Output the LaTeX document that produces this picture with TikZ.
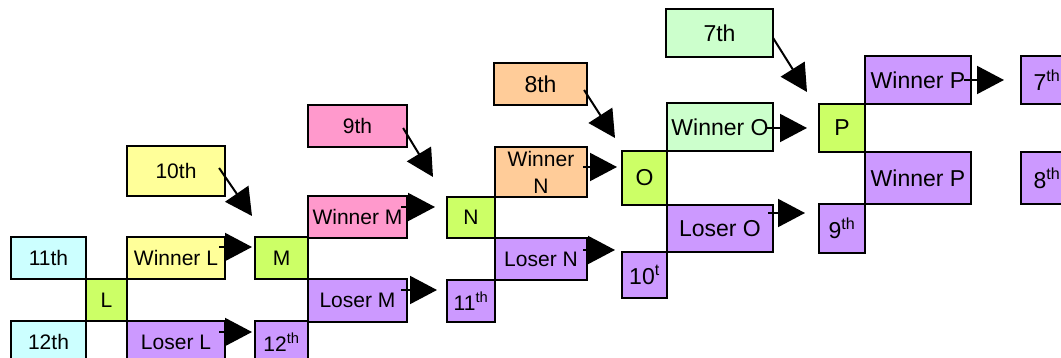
\documentclass[tikz,border=0pt]{standalone}
\usepackage{fontspec}
\setmainfont{Liberation Sans}
\usetikzlibrary{arrows.meta}
\definecolor{cyanL}{HTML}{CCFFFF}
\definecolor{yel}{HTML}{FFFF99}
\definecolor{limeG}{HTML}{CCFF66}
\definecolor{purp}{HTML}{CC99FF}
\definecolor{pinkR}{HTML}{FF99CC}
\definecolor{orng}{HTML}{FFCC99}
\definecolor{lgrn}{HTML}{CCFFCC}
\newcommand\fsA{\fontsize{21}{27}\selectfont}
\newcommand\fsB{\fontsize{23}{28}\selectfont}
\tikzset{
  bx/.style={draw=black, line width=2.2pt, inner sep=0pt, align=center, font=\fsA, text=black},
  big/.style={font=\fsB},
  arr/.style={line width=2pt, -{Triangle[length=27pt,width=28pt]}},
}
\begin{document}
\begin{tikzpicture}[x=1pt,y=-1pt]
\path[use as bounding box] (0,0) rectangle (1061,358);
\fill[white] (0,0) rectangle (1061,358);
\clip (0,0) rectangle (1061,358);
% column L
\node[bx, fill=cyanL, minimum width=75pt, minimum height=42pt] (c11) at (48.5,258) {11th};
\node[bx, fill=cyanL, minimum width=75pt, minimum height=42pt] (c12) at (48.5,342) {12th};
\node[bx, fill=limeG, minimum width=41pt, minimum height=42pt] (l) at (106.5,300) {L};
\node[bx, fill=yel, minimum width=98pt, minimum height=42pt] (wl) at (176,258) {Winner L};
\node[bx, fill=purp, minimum width=98pt, minimum height=42pt] (ll) at (176,342) {Loser L};
\node[bx, fill=yel, minimum width=98pt, minimum height=50pt] (t10) at (176,171) {10th};
% column M
\node[bx, fill=limeG, minimum width=53pt, minimum height=42pt] (m) at (281.5,258) {M};
\node[bx, fill=purp, minimum width=53pt, minimum height=42pt] (p12) at (281.5,342) {12\textsuperscript{th}};
\node[bx, fill=pinkR, minimum width=99pt, minimum height=42pt] (wm) at (357.5,217) {Winner M};
\node[bx, fill=purp, minimum width=99pt, minimum height=43pt] (lm) at (357.5,300.5) {Loser M};
\node[bx, fill=pinkR, minimum width=99pt, minimum height=42pt] (t9) at (357.5,126) {9th};
% column N
\node[bx, fill=limeG, minimum width=48pt, minimum height=41pt] (n) at (471,217.5) {N};
\node[bx, fill=orng, minimum width=92pt, minimum height=50pt] (wn) at (541,172) {Winner\\N};
\node[bx, fill=purp, minimum width=92pt, minimum height=42pt] (ln) at (541,259) {Loser N};
\node[bx, fill=purp, minimum width=48pt, minimum height=42pt] (p11) at (471,301) {11\textsuperscript{th}};
\node[bx, big, fill=orng, minimum width=93pt, minimum height=42pt] (t8) at (540.5,84) {8th};
% column O
\node[bx, big, fill=limeG, minimum width=45pt, minimum height=54pt] (o) at (644.5,178) {O};
\node[bx, big, fill=lgrn, minimum width=106pt, minimum height=48pt] (wo) at (720,127) {Winner O};
\node[bx, big, fill=purp, minimum width=106pt, minimum height=47pt] (lo) at (720,228.5) {Loser O};
\node[bx, big, fill=purp, minimum width=45pt, minimum height=46pt] (p10) at (644.5,275) {10\textsuperscript{t}};
\node[bx, big, fill=lgrn, minimum width=107pt, minimum height=48pt] (t7) at (719.5,33) {7th};
% column P
\node[bx, big, fill=limeG, minimum width=46pt, minimum height=48pt] (p) at (842,128) {P};
\node[bx, big, fill=purp, minimum width=106pt, minimum height=48pt] (wpa) at (918,80) {Winner P};
\node[bx, big, fill=purp, minimum width=106pt, minimum height=52pt] (wpb) at (918,178) {Winner P};
\node[bx, big, fill=purp, minimum width=46pt, minimum height=49pt] (p9) at (842,228.5) {9\textsuperscript{th}};
% final places
\node[bx, big, fill=purp, minimum width=52pt, minimum height=48pt] (p7) at (1047,80) {7\textsuperscript{th}};
\node[bx, big, fill=purp, minimum width=52pt, minimum height=52pt] (p8) at (1047,178) {8\textsuperscript{th}};
% arrow end points
\coordinate (e10) at (252,216);
\coordinate (ewl) at (252,247);
\coordinate (ell) at (252,332);
\coordinate (e9) at (433,177);
\coordinate (ewm) at (435,207);
\coordinate (elm) at (437,290);
\coordinate (e8) at (615,138);
\coordinate (ewn) at (617,167);
\coordinate (eln) at (615,250);
\coordinate (e7) at (807,92);
\coordinate (ewo) at (807,128);
\coordinate (elo) at (805,213);
\coordinate (ewp) at (1004,80);
% arrows
\draw[arr] ([shift={(-7pt,3pt)}]t10.east) -- (e10);
\draw[arr] ([shift={(-7pt,11pt)}]wl.east) -- (ewl);
\draw[arr] ([shift={(-7pt,10pt)}]ll.east) -- (ell);
\draw[arr] ([shift={(-5pt,-2pt)}]t9.east) -- (e9);
\draw[arr] ([shift={(-7pt,10pt)}]wm.east) -- (ewm);
\draw[arr] ([shift={(-7pt,10.5pt)}]lm.east) -- (elm);
\draw[arr] ([shift={(-4pt,-6pt)}]t8.east) -- (e8);
\draw[arr] ([shift={(-5pt,5pt)}]wn.east) -- (ewn);
\draw[arr] ([shift={(-5pt,9pt)}]ln.east) -- (eln);
\draw[arr] ([shift={(-1pt,-5pt)}]t7.east) -- (e7);
\draw[arr] ([shift={(-7pt,-1pt)}]wo.east) -- (ewo);
\draw[arr] ([shift={(-6pt,15.5pt)}]lo.east) -- (elo);
\draw[arr] ([shift={(-8pt,0pt)}]wpa.east) -- (ewp);
\end{tikzpicture}
\end{document}
